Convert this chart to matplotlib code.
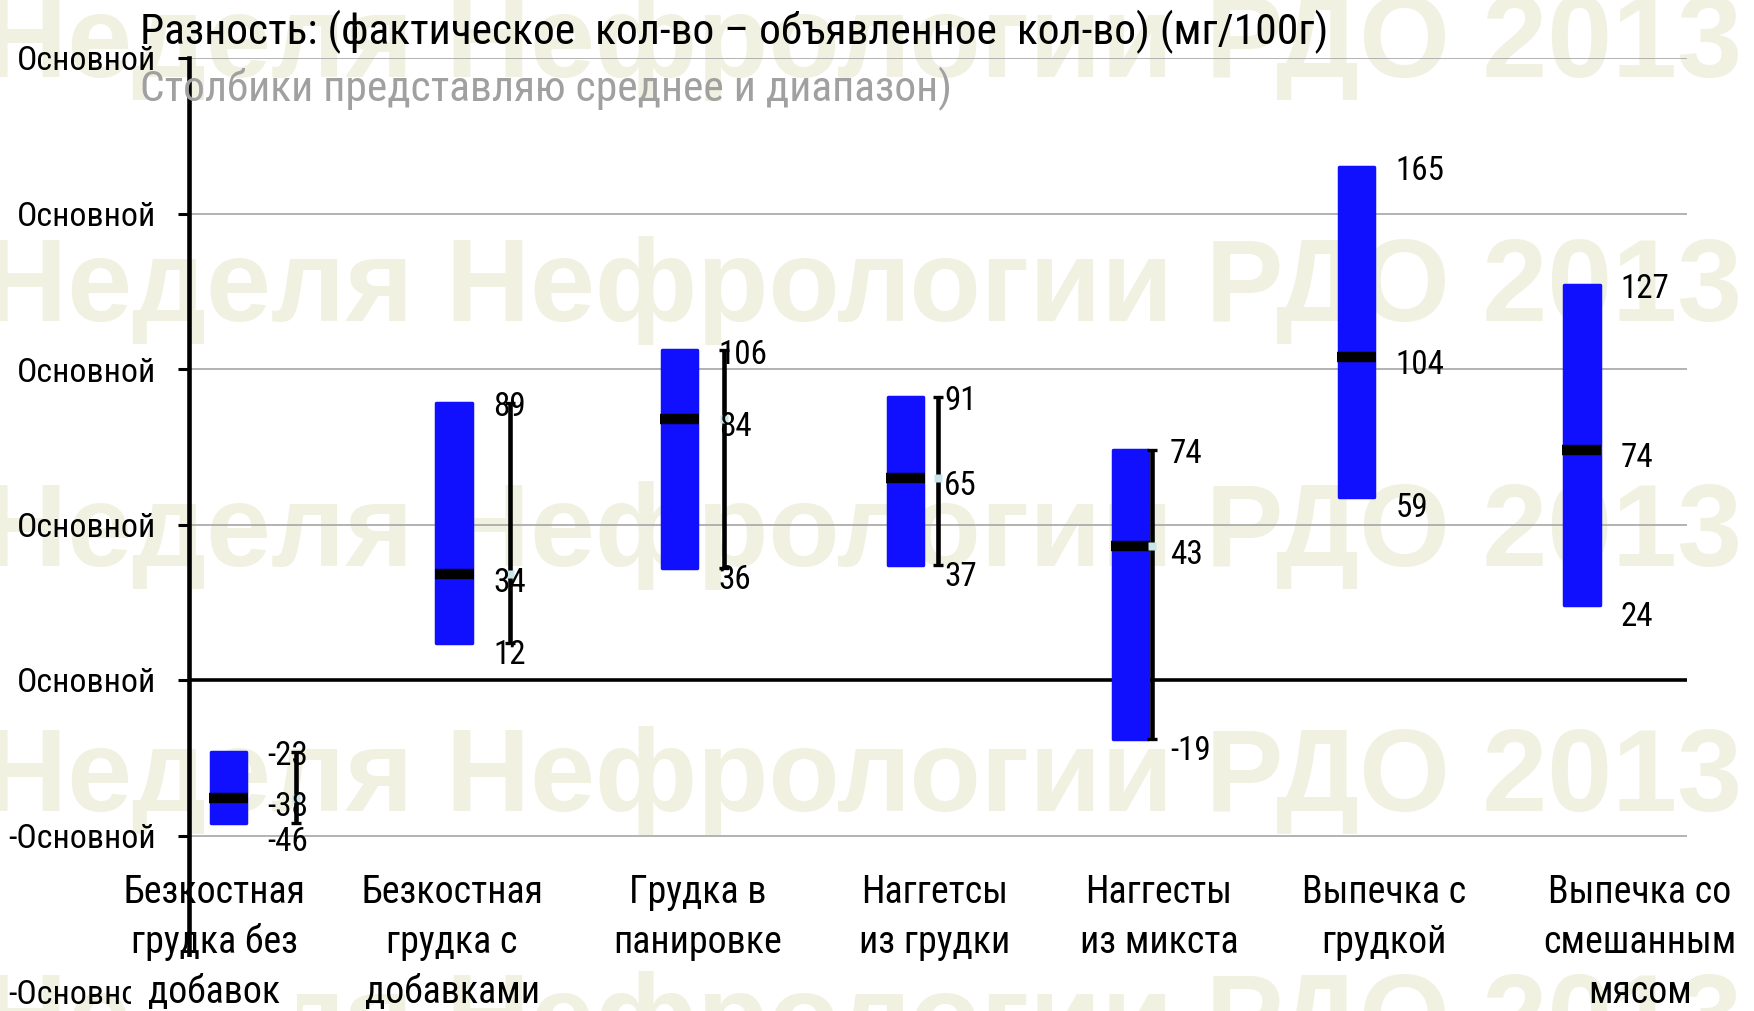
import matplotlib
matplotlib.use("Agg")
import matplotlib.pyplot as plt
import matplotlib.font_manager as fm
from matplotlib.transforms import blended_transform_factory, offset_copy
import numpy as np

# ---------------- data ----------------
categories = [
    "Безкостная\nгрудка без\nдобавок",
    "Безкостная\nгрудка с\nдобавками",
    "Грудка в\nпанировке",
    "Наггетсы\nиз грудки",
    "Наггесты\nиз микста",
    "Выпечка с\nгрудкой",
    "Выпечка со\nсмешанным\nмясом",
]
mean_vals = [-38, 34, 84, 65, 43, 104, 74]
low_vals = [-46, 12, 36, 37, -19, 59, 24]
high_vals = [-23, 89, 106, 91, 74, 165, 127]
# black whiskers are shown only for the first five products
errbar_shown = [True, True, True, True, True, False, False]

y_ticks = [-100, -50, 0, 50, 100, 150, 200]
y_ticklabels = ["-Основной", "-Основной", "Основной", "Основной",
                "Основной", "Основной", "Основной"]
grid_levels = [-50, 50, 100, 150, 200]

title = "Разность: (фактическое  кол-во – объявленное  кол-во) (мг/100г)"
subtitle = "Столбики представляю среднее и диапазон)"
watermark = "Неделя Нефрологии РДО 2013"

# ---------------- fonts ----------------
names = {f.name for f in fm.fontManager.ttflist}
pref = ["Liberation Sans Narrow", "Arial Narrow", "Nimbus Sans Narrow",
        "Roboto Condensed", "PT Sans Narrow", "Open Sans Condensed",
        "Fira Sans Condensed", "Liberation Sans"]
NARROW = next(p for p in pref if p in names)
BOLD_FAM = next(p for p in ["Liberation Sans", "Arimo", "DejaVu Sans"] if p in names)
FAM = [NARROW, "DejaVu Sans"]
plt.rcParams["font.family"] = FAM

W, H = 1754, 1011
fig = plt.figure(figsize=(W / 100, H / 100), dpi=100)
fig.patch.set_facecolor("white")
renderer = fig.canvas.get_renderer()


def fit(text, target_px, **kw):
    t = fig.text(0, 0, text, fontsize=100, **kw)
    w = t.get_window_extent(renderer).width
    t.remove()
    return 100.0 * target_px / w


def fy(px):
    return (H - px) / H


fs_title = fit(title, 1189, family=FAM)
fs_tick = fit("Основной", 139, family=FAM)
fs_cat = fit("Безкостная", 182, family=FAM)
fs_val = fit("165", 49, family=FAM)
fs_wm = fit(watermark, 1760, family=[BOLD_FAM, "DejaVu Sans"], fontweight="bold")

# watermark behind everything
for base in [77, 321, 566, 811, 1056]:
    fig.text(0.492, fy(base), watermark, ha="center", va="baseline",
             fontsize=fs_wm, fontweight="bold", color="#f1f1e2",
             family=[BOLD_FAM, "DejaVu Sans"], zorder=-5)

ax = fig.add_axes([189 / W, fy(991), 1498 / W, (991 - 58) / H])
ax.set_facecolor("none")
ax.set_xlim(-0.5, 6.5)
ax.set_ylim(-100, 200)

n = len(categories)
idx = np.arange(n)
bar_x = idx * 1.054 - 0.315      # blue range bars
slot_x = idx.astype(float)       # whisker series sits in the category slot centres
bar_w = 0.165

# grid and zero line
for g in grid_levels:
    ax.axhline(g, color="#a6a6a6", lw=1.2, zorder=0.5)
ax.axhline(0, color="black", lw=2.6, zorder=1.5)

# blue range bars
blue = "#1010ff"
ax.bar(bar_x, np.array(high_vals) - np.array(low_vals), bottom=low_vals,
       width=bar_w, color=blue, edgecolor=blue, linewidth=2.5,
       joinstyle="round", zorder=2)
# mean markers on the bars
for x, m in zip(bar_x, mean_vals):
    ax.plot([x - 0.091, x + 0.091], [m, m], color="black", lw=7.5,
            solid_capstyle="butt", zorder=3)

# black whiskers
ex = [x for x, s in zip(slot_x, errbar_shown) if s]
em = np.array([m for m, s in zip(mean_vals, errbar_shown) if s])
el = np.array([v for v, s in zip(low_vals, errbar_shown) if s])
eh = np.array([v for v, s in zip(high_vals, errbar_shown) if s])
ax.errorbar(ex, em, yerr=[em - el, eh - em], fmt="none", ecolor="black",
            elinewidth=3.3, capsize=3.6, capthick=2.4, zorder=4)
ax.plot(ex, em, "s", color="#c8e6ea", ms=5.5, mec="none", zorder=4.5)

# value labels
for i, (x, lo, m, hi) in enumerate(zip(bar_x, low_vals, mean_vals, high_vals)):
    lo_dy = -20.0 if lo < -40 else -15.0
    for v, dy in [(hi, -9.5), (m, -12.5), (lo, lo_dy)]:
        tr = offset_copy(ax.transData, fig=fig, x=0, y=dy, units="points")
        ax.text(x + 0.182, v, f"{v}", transform=tr, ha="left", va="baseline",
                fontsize=fs_val, color="black", zorder=6)

# axes styling
for s in ["top", "right", "bottom"]:
    ax.spines[s].set_visible(False)
ax.spines["left"].set_linewidth(3.3)
ax.spines["left"].set_zorder(5)
ax.set_xticks([])
ax.set_yticks(y_ticks)
ax.set_yticklabels(y_ticklabels)
ax.tick_params(axis="y", direction="out", length=8, width=2.2,
               labelsize=fs_tick, pad=16, colors="black")

# category labels
cat_label_x = [-0.383, 0.729, 1.879, 2.986, 4.033, 5.084, 6.28]
tr_lab = blended_transform_factory(ax.transData, fig.transFigure)
for cx, lab in zip(cat_label_x, categories):
    for k, line in enumerate(lab.split("\n")):
        kw = {}
        z = 10
        if k == 2 and cx < 0:
            kw["bbox"] = dict(boxstyle="square,pad=0.45", fc="white", ec="none")
            z = 9
        ax.text(cx, fy(903 + 50 * k), line, transform=tr_lab, ha="center",
                va="baseline", fontsize=fs_cat, color="black", zorder=z,
                clip_on=False, **kw)

# titles
fig.text(140 / W, fy(44), title, ha="left", va="baseline", fontsize=fs_title,
         color="black", zorder=8)
fig.text(140 / W, fy(101), subtitle, ha="left", va="baseline", fontsize=fs_title,
         color="#a0a0a0", zorder=8)

fig.savefig("out.png", dpi=100, facecolor="white")
